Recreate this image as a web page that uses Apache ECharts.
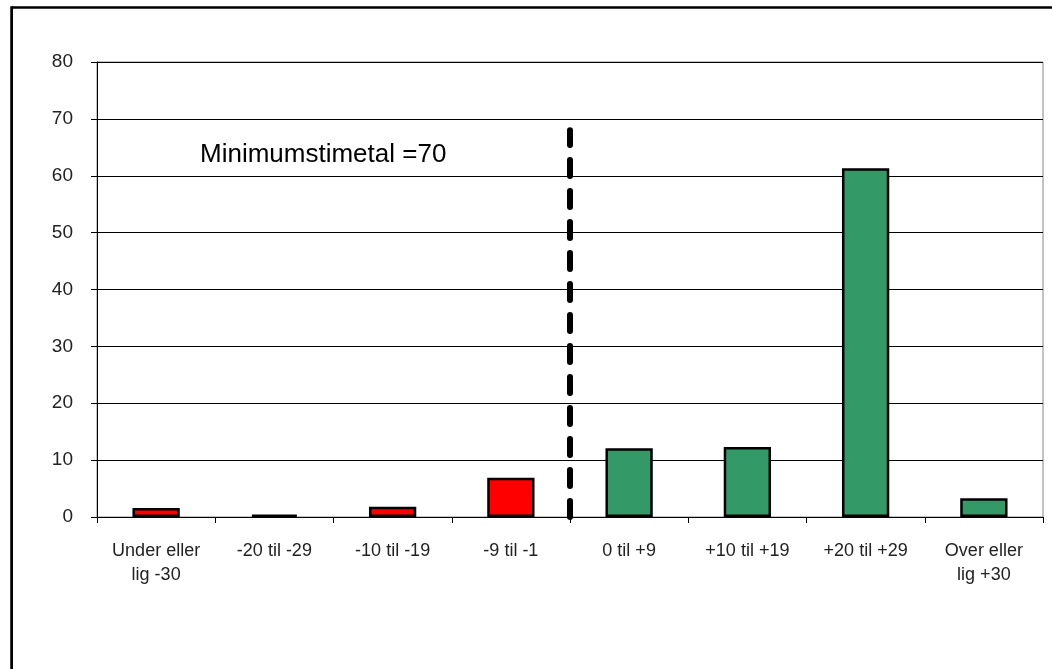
<!DOCTYPE html>
<html>
<head>
<meta charset="utf-8">
<script src="https://cdn.jsdelivr.net/npm/echarts@6/dist/echarts.min.js"></script>
<style>
  html, body { margin: 0; padding: 0; background: #fff; }
  #chart { width: 1052px; height: 669px; }
</style>
</head>
<body>
<div id="chart"></div>
<script>
// kategorier og værdier
var categories = ['Under eller\nlig -30', '-20 til -29', '-10 til -19', '-9 til -1',
                  '0 til +9', '+10 til +19', '+20 til +29', 'Over eller\nlig +30'];
var values = [1.6, 0.4, 1.8, 6.9, 12.1, 12.3, 61.3, 3.3];
var barColors = ['#FF0000', '#FF0000', '#FF0000', '#FF0000', '#339966', '#339966', '#339966', '#339966'];
var yTicks = [0, 10, 20, 30, 40, 50, 60, 70, 80];
// skillelinje mellem kategori 4 og 5
var dividerX = 4;
var dividerTop = 68;
var noteText = 'Minimumstimetal =70';

var chart = echarts.init(document.getElementById('chart'));
var font = 'Arial, "Liberation Sans", sans-serif';

var option = {
	animation: false,
	backgroundColor: '#fff',
	grid: {
		left: 97, right: 9, top: 62, bottom: 152,
		show: true, borderColor: '#888', borderWidth: 1
	},
	graphic: [
		// ydre ramme
		{ type: 'rect', left: 9, top: 5, shape: { width: 1100, height: 720 },
		  style: { fill: 'none', stroke: '#000', lineWidth: 2.5 }, silent: true },
		{ type: 'line', shape: { x1: 12.5, y1: 6, x2: 12.5, y2: 669 },
		  style: { stroke: '#000', lineWidth: 1 }, silent: true },
		{ type: 'text', left: 200, top: 142,
		  style: { text: noteText, font: '26px ' + font, fill: '#000' } }
	],
	xAxis: [
		{
			type: 'category',
			data: categories,
			boundaryGap: true,
			axisLine: { lineStyle: { color: '#000', width: 1 } },
			axisTick: { show: true, length: 6, lineStyle: { color: '#000' } },
			axisLabel: {
				color: '#222', fontSize: 18, margin: 22, lineHeight: 24,
				fontFamily: font, interval: 0
			}
		},
		{
			type: 'value', min: 0, max: 8, show: false
		}
	],
	yAxis: {
		type: 'value',
		min: yTicks[0],
		max: yTicks[yTicks.length - 1],
		interval: 10,
		axisLine: { show: true, lineStyle: { color: '#000' } },
		axisTick: { show: true, length: 6, lineStyle: { color: '#000' } },
		axisLabel: {
			color: '#222', fontSize: 19, margin: 24,
			fontFamily: font
		},
		splitLine: { show: true, lineStyle: { color: '#000', width: 1 } }
	},
	series: [
		{
			type: 'bar',
			xAxisIndex: 0,
			barWidth: '40%',
			data: values.map(function(v, i) {
				return { value: v, itemStyle: { color: barColors[i] } };
			}),
			itemStyle: { borderColor: '#000', borderWidth: 2.5 },
			z: 3
		},
		{
			type: 'line',
			xAxisIndex: 1,
			data: [[dividerX, 0], [dividerX, dividerTop]],
			symbol: 'none',
			silent: true,
			lineStyle: { color: '#000', width: 6, type: [16, 15], cap: 'round' },
			z: 5
		}
	]
};
chart.setOption(option);
</script>
</body>
</html>
